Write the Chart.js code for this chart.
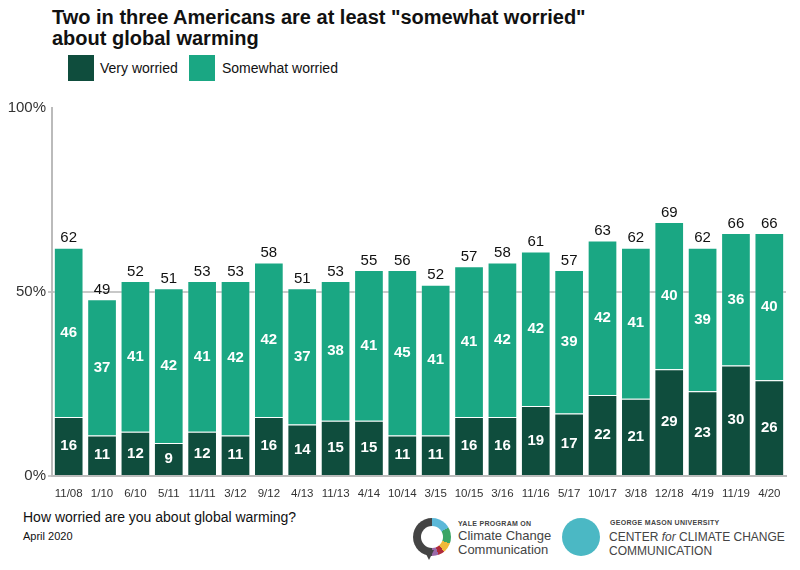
<!DOCTYPE html>
<html lang="en">
<head>
<meta charset="UTF-8">
<title>Worried about global warming</title>
<style>
  body { margin: 0; width: 800px; height: 570px; position: relative; background: #fff; font-family: "Liberation Sans", Arial, sans-serif; overflow: hidden; }
  .abs { position: absolute; }
  #title { left: 52px; top: 7px; font-size: 20px; font-weight: bold; line-height: 21px; color: #111; }
  .sw { width: 26px; height: 26px; }
  .lg { font-size: 14px; color: #111; }
  #wrap { left: 0; top: 95px; width: 800px; height: 404px; }
  .q { left: 23px; top: 509px; font-size: 14px; color: #111; }
  .d { left: 23px; top: 530px; font-size: 11px; color: #111; }
  .ring { left: 413px; top: 518px; width: 38px; height: 38px; border-radius: 50%;
          background: conic-gradient(#5bb8d8 0deg 60deg, #3aa565 60deg 110deg, #f0b93a 110deg 140deg, #b02a3a 140deg 160deg, #9a6aa8 160deg 180deg, #444 180deg 360deg); }
  .ring:after { content: ""; position: absolute; left: 8px; top: 8px; width: 22px; height: 22px; border-radius: 50%; background: #fff; }
  .tail { left: 424px; top: 550px; width: 0; height: 0; border-left: 5px solid transparent; border-right: 5px solid transparent; border-top: 10px solid #444; }
  .shell { left: 562px; top: 518px; width: 38px; height: 38px; border-radius: 50%; background: #4bb8c4; }
  .small { font-size: 7px; letter-spacing: 0.3px; color: #444; font-weight: bold; }
  .mid { font-size: 13px; line-height: 14px; color: #444; }
</style>
</head>
<body>
<div id="title" class="abs">Two in three Americans are at least "somewhat worried"<br>about global warming</div>

<div class="abs sw" style="left:68px;top:55px;background:#0f4d3d"></div>
<div class="abs lg" style="left:100px;top:60px">Very worried</div>
<div class="abs sw" style="left:189px;top:55px;background:#1aa783"></div>
<div class="abs lg" style="left:222px;top:60px">Somewhat worried</div>

<div id="wrap" class="abs"><canvas id="cvs"></canvas></div>

<div class="abs q">How worried are you about global warming?</div>
<div class="abs d">April 2020</div>

<div class="abs ring"></div>
<div class="abs tail"></div>
<div class="abs small" style="left:458px;top:520px">YALE PROGRAM ON</div>
<div class="abs mid" style="left:458px;top:529px">Climate Change<br>Communication</div>
<div class="abs shell"></div>
<div class="abs small" style="left:610px;top:519px">GEORGE MASON UNIVERSITY</div>
<div class="abs mid" style="left:609px;top:530px;font-size:12px">CENTER <i>for</i> CLIMATE CHANGE<br>COMMUNICATION</div>

<script src="https://cdn.jsdelivr.net/npm/chart.js@4.4.1/dist/chart.umd.min.js"></script>
<script>
const labels = ["11/08", "1/10", "6/10", "5/11", "11/11", "3/12", "9/12", "4/13", "11/13", "4/14", "10/14", "3/15", "10/15", "3/16", "11/16", "5/17", "10/17", "3/18", "12/18", "4/19", "11/19", "4/20"];
const veryWorried = [16, 11, 12, 9, 12, 11, 16, 14, 15, 15, 11, 11, 16, 16, 19, 17, 22, 21, 29, 23, 30, 26];
const somewhatWorried = [46, 37, 41, 42, 41, 42, 42, 37, 38, 41, 45, 41, 41, 42, 42, 39, 42, 41, 40, 39, 36, 40];
const totals = [62, 49, 52, 51, 53, 53, 58, 51, 53, 55, 56, 52, 57, 58, 61, 57, 63, 62, 69, 62, 66, 66];
const yTicks = [0, 50, 100];

const dark = "#0f4d3d";
const light = "#1aa783";

// numbers inside the bars and totals on top
const valueLabels = {
  id: "valueLabels",
  afterDatasetsDraw(chart) {
    const c = chart.ctx;
    c.save();
    c.textAlign = "center";
    c.textBaseline = "middle";
    chart.data.datasets.forEach((ds, di) => {
      chart.getDatasetMeta(di).data.forEach((bar, i) => {
        c.fillStyle = "#fff";
        c.font = "bold 15px 'Liberation Sans', Arial";
        c.fillText(ds.data[i], bar.x, (bar.y + bar.base) / 2);
      });
    });
    const top = chart.getDatasetMeta(1).data;
    c.fillStyle = "#111";
    c.font = "15px 'Liberation Sans', Arial";
    c.textBaseline = "bottom";
    top.forEach((bar, i) => c.fillText(totals[i], bar.x, bar.y - 2));
    c.restore();
  }
};

new Chart(document.getElementById("cvs"), {
  type: "bar",
  data: {
    labels: labels,
    datasets: [
      { label: "Very worried", data: veryWorried, backgroundColor: dark, borderColor: "rgba(255,255,255,0.25)", borderWidth: 1 },
      { label: "Somewhat worried", data: somewhatWorried, backgroundColor: light, borderColor: "rgba(255,255,255,0.25)", borderWidth: 1 }
    ]
  },
  options: {
    responsive: true,
    maintainAspectRatio: false,
    animation: false,
    layout: { padding: { top: 13, right: 14, left: 0, bottom: 0 } },
    datasets: { bar: { barPercentage: 0.89, categoryPercentage: 1 } },
    plugins: { legend: { display: false }, tooltip: { enabled: false } },
    scales: {
      x: {
        stacked: true,
        grid: { display: false },
        border: { color: "#bbb", width: 2 },
        ticks: { color: "#333", font: { size: 11.5, family: "'Liberation Sans', Arial" }, maxRotation: 0, autoSkip: false, padding: 3 },
        afterFit(s) { s.height = 23; }
      },
      y: {
        stacked: true,
        min: 0,
        max: 100,
        afterBuildTicks(s) { s.ticks = yTicks.map(v => ({ value: v })); },
        grid: {
          color: ctx => (ctx.tick && ctx.tick.value === 100) ? "rgba(0,0,0,0)" : "#c8c8c8",
          lineWidth: 2,
          drawTicks: true,
          tickLength: 4
        },
        border: { color: "#bbb", width: 2 },
        ticks: { color: "#333", font: { size: 15, family: "'Liberation Sans', Arial" }, padding: 2, callback: v => v + "%" },
        afterFit(s) { s.width = 52; }
      }
    }
  },
  plugins: [valueLabels]
});
</script>
</body>
</html>
